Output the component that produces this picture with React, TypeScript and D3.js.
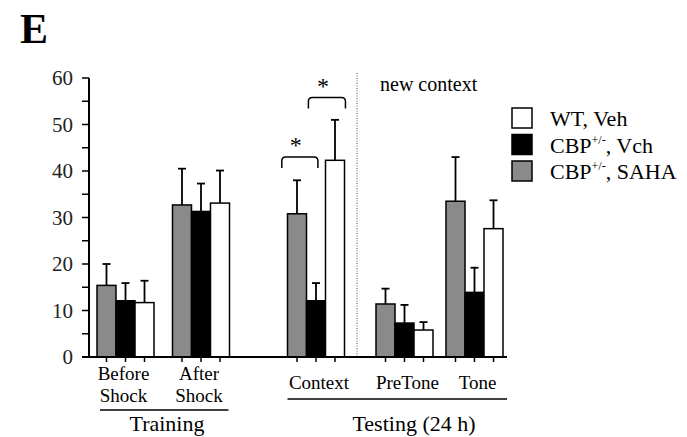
import React from 'react';
import * as d3 from 'd3';

// freezing (%) per phase
const categories = ['Before Shock', 'After Shock', 'Context', 'PreTone', 'Tone'];
const sahaMean = [15.4, 32.7, 30.8, 11.4, 33.5];
const sahaSem = [4.6, 7.8, 7.2, 3.3, 9.5];
const cbpMean = [12.1, 31.3, 12.1, 7.3, 13.9];
const cbpSem = [3.8, 6.0, 3.8, 3.9, 5.3];
const wtMean = [11.7, 33.1, 42.3, 5.8, 27.6];
const wtSem = [4.7, 7.0, 8.7, 1.7, 6.1];
const yTicks = [0, 10, 20, 30, 40, 50, 60];
const legendLabels = ['WT, Veh', 'CBP+/-, Vch', 'CBP+/-, SAHA'];
// significance brackets: category, span in bar units, height (y units)
const brackets = [
  { cat: 'Context', from: -0.3, to: 1.6, y: 43 },
  { cat: 'Context', from: 1.1, to: 3.05, y: 55.8 },
];

const FONT = '"Liberation Serif", "Times New Roman", serif';
const GRAY = '#8a8a8a';

const series = [
  { mean: sahaMean, sem: sahaSem, fill: GRAY },
  { mean: cbpMean, sem: cbpSem, fill: '#000' },
  { mean: wtMean, sem: wtSem, fill: '#fff' },
];

const App = () => {
  const width = 687;
  const height = 437;
  const y = d3.scaleLinear().domain([0, 60]).range([357, 78]);
  // group centres are spaced unevenly in the figure
  const x = d3.scaleOrdinal<string, number>().domain(categories).range([125.5, 201, 316, 404.5, 474.5]);
  const barW = 19;
  const barX = (c: string, i: number) => x(c) - 1.5 * barW + i * barW;
  const axisX = 89;

  const minor = d3.range(0, 61, 5);

  const bracketPath = (x0: number, x1: number, yy: number) => {
    const leg = 11;
    const r = 4;
    return `M${x0},${yy + leg} L${x0},${yy + r} Q${x0},${yy} ${x0 + r},${yy} L${x1 - r},${yy} Q${x1},${yy} ${x1},${yy + r} L${x1},${yy + leg}`;
  };

  return (
    <svg width={width} height={height} style={{ position: 'absolute', left: 0, top: 0, background: '#fff' }} fontFamily={FONT}>
      <text x={20} y={43} fontSize={42} fontWeight="bold">E</text>

      {/* y axis */}
      <line x1={axisX} x2={axisX} y1={y(60)} y2={y(0)} stroke="#000" strokeWidth={2} />
      {minor.map(t => (
        <line key={t} x1={axisX - 7} x2={axisX} y1={y(t)} y2={y(t)} stroke="#000" strokeWidth={1.5} />
      ))}
      {yTicks.map(t => (
        <text key={t} x={73} y={y(t) + 7} fontSize={21} textAnchor="end" fill="#222">{t}</text>
      ))}

      {/* dotted separator */}
      <line x1={357} x2={357} y1={73} y2={y(0)} stroke="#555" strokeWidth={1} strokeDasharray="1,1.5" />
      <text x={380} y={91} fontSize={20}>new context</text>

      {/* bars */}
      {series.map((s, i) => categories.map((c, j) => {
        const bx = barX(c, i);
        const cx = bx + barW / 2;
        const top = s.mean[j] + s.sem[j];
        return (
          <g key={`${i}-${j}`}>
            <line x1={cx} x2={cx} y1={y(s.mean[j])} y2={y(top)} stroke="#000" strokeWidth={1.8} />
            <line x1={cx - 4} x2={cx + 4} y1={y(top)} y2={y(top)} stroke="#000" strokeWidth={1.8} />
            <rect x={bx} y={y(s.mean[j])} width={barW} height={y(0) - y(s.mean[j])} fill={s.fill} stroke="#000" strokeWidth={1.5} />
            <line x1={cx} x2={cx} y1={y(0)} y2={y(0) + 5} stroke="#000" strokeWidth={1.5} />
          </g>
        );
      }))}

      {/* x axis */}
      <line x1={82} x2={507} y1={y(0)} y2={y(0)} stroke="#000" strokeWidth={2} />

      {/* significance */}
      {brackets.map((b, k) => {
        const x0 = barX(b.cat, 0) + b.from * barW;
        const x1 = barX(b.cat, 0) + b.to * barW;
        return (
          <g key={k}>
            <path d={bracketPath(x0, x1, y(b.y))} fill="none" stroke="#000" strokeWidth={1.5} />
            <text x={(x0 + x1) / 2 - 4} y={y(b.y) - 4} fontSize={24} textAnchor="middle">*</text>
          </g>
        );
      })}

      {/* category labels */}
      {categories.map((c, j) => {
        const words = j < 2 ? c.split(' ') : [c];
        return words.length === 2 ? (
          <text key={c} fontSize={19} textAnchor="middle">
            <tspan x={x(c) - 2} y={380}>{words[0]}</tspan>
            <tspan x={x(c) - 2} y={402}>{words[1]}</tspan>
          </text>
        ) : (
          <text key={c} x={x(c) + 3} y={389} fontSize={19} textAnchor="middle">{c}</text>
        );
      })}

      {/* group labels */}
      <line x1={barX('Before Shock', 0) + 3} x2={barX('After Shock', 3) - 1} y1={410} y2={410} stroke="#000" strokeWidth={1.5} />
      <text x={167} y={431} fontSize={22} textAnchor="middle">Training</text>
      <line x1={barX('Context', 0)} x2={507} y1={399} y2={399} stroke="#000" strokeWidth={1.5} />
      <text x={414} y={431} fontSize={22} textAnchor="middle">Testing (24 h)</text>

      {/* legend */}
      {legendLabels.map((l, k) => {
        const fill = [series[2].fill, series[1].fill, series[0].fill][k];
        const [main, rest] = l.split('+/-');
        return (
          <g key={l} transform={`translate(512, ${108 + k * 26.5})`}>
            <rect x={0} y={0} width={20} height={20} fill={fill} stroke="#000" strokeWidth={1.5} />
            <text x={38} y={18} fontSize={22}>
              {rest === undefined ? main : (
                <>
                  {main}
                  <tspan fontSize={12} dy={-9}>+/-</tspan>
                  <tspan dy={9}>{rest}</tspan>
                </>
              )}
            </text>
          </g>
        );
      })}
    </svg>
  );
};

export default App;
